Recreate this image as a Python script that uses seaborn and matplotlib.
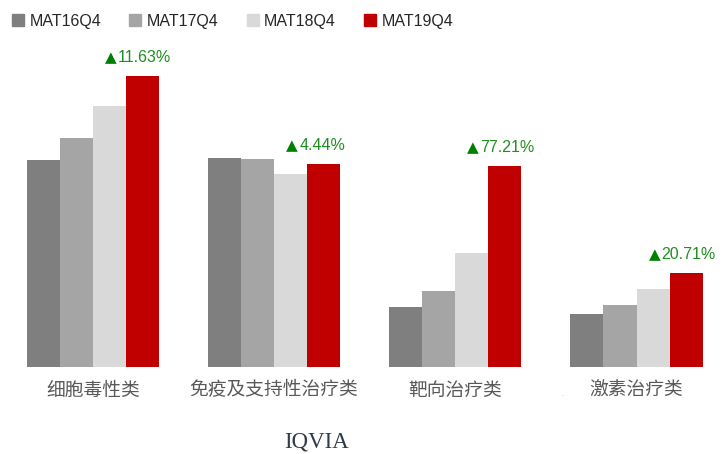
import pandas as pd
import matplotlib
matplotlib.use("Agg")
import matplotlib.pyplot as plt
import matplotlib.patches as mpatches
import seaborn as sns

categories = ["细胞毒性类", "免疫及支持性治疗类", "靶向治疗类", "激素治疗类"]
periods = ["MAT16Q4", "MAT17Q4", "MAT18Q4", "MAT19Q4"]
mat16 = [207, 209, 60, 53]
mat17 = [229, 208, 76, 62]
mat18 = [261, 193, 114, 78]
mat19 = [291, 203, 201, 94]
growth = ["11.63%", "4.44%", "77.21%", "20.71%"]
colors = ["#7f7f7f", "#a5a5a5", "#d9d9d9", "#c00000"]

rows = []
for p, vals in zip(periods, [mat16, mat17, mat18, mat19]):
    for c, v in zip(categories, vals):
        rows.append({"category": c, "period": p, "value": v})
df = pd.DataFrame(rows)

sns.set_style("white")
plt.rcParams["font.family"] = ["Liberation Sans", "DejaVu Sans"]

fig = plt.figure(figsize=(7.25, 4.54), dpi=100)
ax = fig.add_axes([0.003, 0.1916, 1.0, 0.683])

sns.barplot(data=df, x="category", y="value", hue="period", order=categories,
            hue_order=periods, palette=colors, width=0.73, saturation=1,
            linewidth=0, legend=False, ax=ax)

ax.set_xlim(-0.5, 3.5)
ax.set_ylim(0, 310)
ax.set_xlabel("")
ax.set_ylabel("")
ax.set_yticks([])
sns.despine(ax=ax, left=True, bottom=True)
ax.tick_params(axis="x", length=0, pad=9)
ax.set_xticks(range(len(categories)))
ax.set_xticklabels(categories, fontsize=13.5, color="#595959",
                   family=["Noto Sans CJK SC", "DejaVu Sans"])

# growth labels above the MAT19Q4 bars: triangle + percentage
for i, (v, g) in enumerate(zip(mat19, growth)):
    x0 = i + 0.1825 - 0.044
    ax.text(x0, v + 18, g, ha="left", va="center",
            fontsize=11.5, color="#1f8f1f")
    ax.annotate("▲", xy=(x0, v + 18), xytext=(-1, 0), textcoords="offset points",
                ha="right", va="center", fontsize=11, color="#008000",
                family="DejaVu Sans")

handles = [mpatches.Patch(color=c, label=p) for p, c in zip(periods, colors)]
fig.legend(handles=handles, loc="center left", bbox_to_anchor=(0.0166, 0.9537),
           ncol=4, frameon=False, fontsize=11.5, handlelength=0.75,
           handleheight=0.75, handletextpad=0.35, columnspacing=1.75,
           borderpad=0, borderaxespad=0)

fig.text(317 / 725, 1 - 442 / 454, "IQVIA", ha="center", va="center",
         fontsize=16.5, color="#2f3b48", family="Liberation Serif")
fig.text(562 / 725, 1 - 394 / 454, ".", ha="center", va="center",
         fontsize=6, color="#c0c0c0")

fig.savefig("out.png", dpi=100)
